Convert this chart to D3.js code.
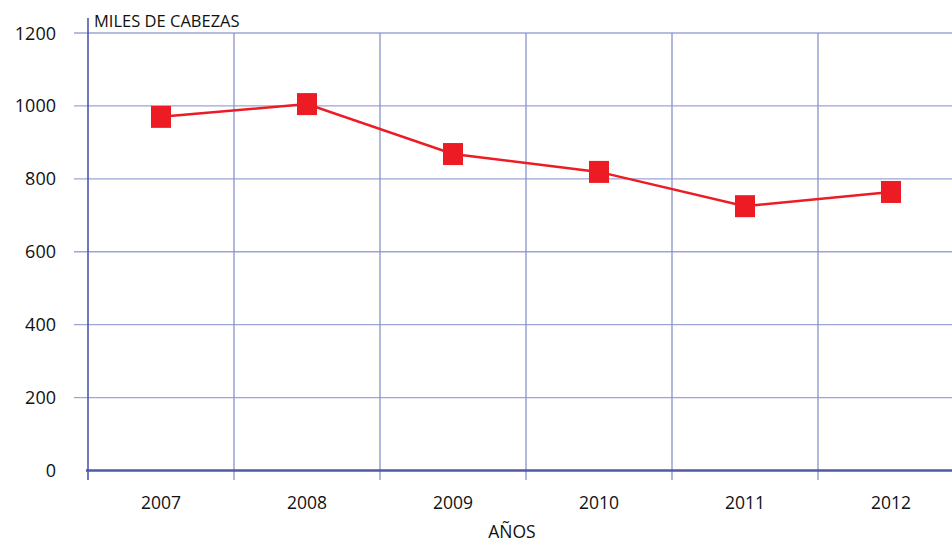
<!DOCTYPE html>
<html>
<head>
<meta charset="utf-8">
<script src="https://cdn.jsdelivr.net/npm/d3@7"></script>
<style>
  body { margin: 0; background: #fff; }
  svg text { font-family: "Open Sans", "Noto Sans", sans-serif; fill: #111; }
</style>
</head>
<body>
<svg id="chart" width="952" height="544"></svg>
<script>
// data
var years = ["2007", "2008", "2009", "2010", "2011", "2012"];
var cabezas = [970, 1005, 868, 819, 725, 764];
var yTicks = [0, 200, 400, 600, 800, 1000, 1200];

var svg = d3.select("#chart");

var x = d3.scaleBand().domain(years).range([88, 964]);
var y = d3.scaleLinear().domain([0, 1200]).range([470.5, 33]);

var gridColor = "#9ba4d3";
var axisColor = "#4a59aa";

// horizontal grid
svg.append("g").selectAll("line")
    .data(yTicks.filter(function (d) { return d > 0; }))
    .enter().append("line")
    .attr("x1", 74).attr("x2", 952)
    .attr("y1", function (d) { return y(d); })
    .attr("y2", function (d) { return y(d); })
    .attr("stroke", gridColor)
    .attr("stroke-width", 1.3);

// vertical grid + ticks below baseline
svg.append("g").selectAll("line")
    .data(years.slice(1))
    .enter().append("line")
    .attr("x1", function (d) { return x(d); })
    .attr("x2", function (d) { return x(d); })
    .attr("y1", y(1200)).attr("y2", 480)
    .attr("stroke", "#8893cb")
    .attr("stroke-width", 1.3);

// y axis line
svg.append("line")
    .attr("x1", 88).attr("x2", 88)
    .attr("y1", 18).attr("y2", 480)
    .attr("stroke", axisColor)
    .attr("stroke-width", 1.6);

// baseline
svg.append("line")
    .attr("x1", 86).attr("x2", 952)
    .attr("y1", y(0)).attr("y2", y(0))
    .attr("stroke", axisColor)
    .attr("stroke-width", 2.4);

// y labels
svg.append("g").selectAll("text")
    .data(yTicks)
    .enter().append("text")
    .attr("x", 56)
    .attr("y", function (d) { return y(d) + 6.5; })
    .attr("text-anchor", "end")
    .attr("font-size", 18)
    .text(function (d) { return d; });

// x labels
svg.append("g").selectAll("text")
    .data(years)
    .enter().append("text")
    .attr("x", function (d) { return x(d) + x.bandwidth() / 2; })
    .attr("y", 509)
    .attr("text-anchor", "middle")
    .attr("font-size", 17.5)
    .text(function (d) { return d; });

svg.append("text")
    .attr("x", 94).attr("y", 27)
    .attr("font-size", 16.5)
    .text("MILES DE CABEZAS");

svg.append("text")
    .attr("x", 512).attr("y", 538)
    .attr("text-anchor", "middle")
    .attr("font-size", 17.5)
    .text("AÑOS");

// series
var pts = years.map(function (d, i) { return { year: d, v: cabezas[i] }; });
var line = d3.line()
    .x(function (d) { return x(d.year) + x.bandwidth() / 2; })
    .y(function (d) { return y(d.v); });

svg.append("path")
    .datum(pts)
    .attr("d", line)
    .attr("fill", "none")
    .attr("stroke", "#ed1c24")
    .attr("stroke-width", 2.5);

svg.append("g").selectAll("rect")
    .data(pts)
    .enter().append("rect")
    .attr("x", function (d) { return x(d.year) + x.bandwidth() / 2 - 10; })
    .attr("y", function (d) { return y(d.v) - 11; })
    .attr("width", 20)
    .attr("height", 22)
    .attr("fill", "#ed1c24");
</script>
</body>
</html>
